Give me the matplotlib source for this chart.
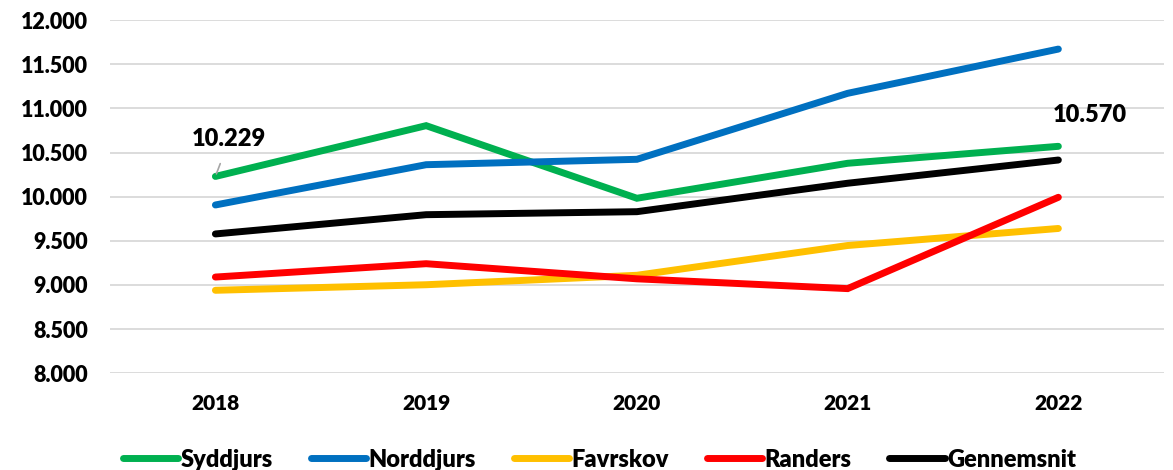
import matplotlib
matplotlib.use("Agg")
import matplotlib.pyplot as plt
from matplotlib.ticker import FuncFormatter, MultipleLocator

years = ["2018", "2019", "2020", "2021", "2022"]
syddjurs = [10229, 10804, 9982, 10378, 10570]
norddjurs = [9906, 10362, 10423, 11170, 11671]
favrskov = [8940, 9003, 9110, 9447, 9640]
randers = [9090, 9241, 9070, 8959, 9993]
gennemsnit = [9578, 9796, 9830, 10152, 10415]

series = [
    ("Syddjurs", syddjurs, "#00b050"),
    ("Norddjurs", norddjurs, "#0070c0"),
    ("Favrskov", favrskov, "#ffc000"),
    ("Randers", randers, "#ff0000"),
    ("Gennemsnit", gennemsnit, "#000000"),
]

FONT = ['Lato', 'DejaVu Sans']
W = 800
plt.rcParams['font.family'] = FONT
plt.rcParams['font.weight'] = W

fig = plt.figure(figsize=(11.73, 4.70), dpi=100)
ax = fig.add_axes([0.0938, 0.2057, 0.8983, 0.7517])

x = list(range(len(years)))
for name, vals, col in series:
    ax.plot(x, vals, color=col, lw=5.0, solid_capstyle='round',
            solid_joinstyle='miter', label=name, zorder=3)

ax.set_xlim(-0.5, len(years) - 0.5)
ax.set_ylim(8000, 12000)
ax.yaxis.set_major_locator(MultipleLocator(500))
ax.yaxis.set_major_formatter(FuncFormatter(lambda v, p: f"{int(v):,}".replace(",", ".")))
ax.set_xticks(x)
ax.set_xticklabels(years)
ax.grid(axis='y', color='#d9d9d9', lw=1.3, zorder=0)
ax.set_axisbelow(True)
for s in ax.spines.values():
    s.set_visible(False)
ax.tick_params(axis='y', length=0, pad=16, labelsize=15.5)
ax.tick_params(axis='x', length=0, pad=15, labelsize=15)
for lbl in ax.get_xticklabels() + ax.get_yticklabels():
    lbl.set_fontweight(W)

ax.annotate("10.229", xy=(0, syddjurs[0]), xytext=(14, 37), textcoords='offset pixels',
            ha='center', va='center', fontsize=17, fontweight=W,
            arrowprops=dict(arrowstyle='-', color='#a6a6a6', lw=1.2, shrinkA=8, shrinkB=2))
ax.annotate("10.570", xy=(4, syddjurs[4]), xytext=(31, 31), textcoords='offset pixels',
            ha='center', va='center', fontsize=17, fontweight=W)

leg = fig.legend(loc='center', bbox_to_anchor=(0.511, 0.022), ncol=5, frameon=False,
                 prop={'size': 17, 'weight': W}, handlelength=2.35, handletextpad=0.1,
                 columnspacing=1.6)

fig.savefig("out.png", dpi=100)
